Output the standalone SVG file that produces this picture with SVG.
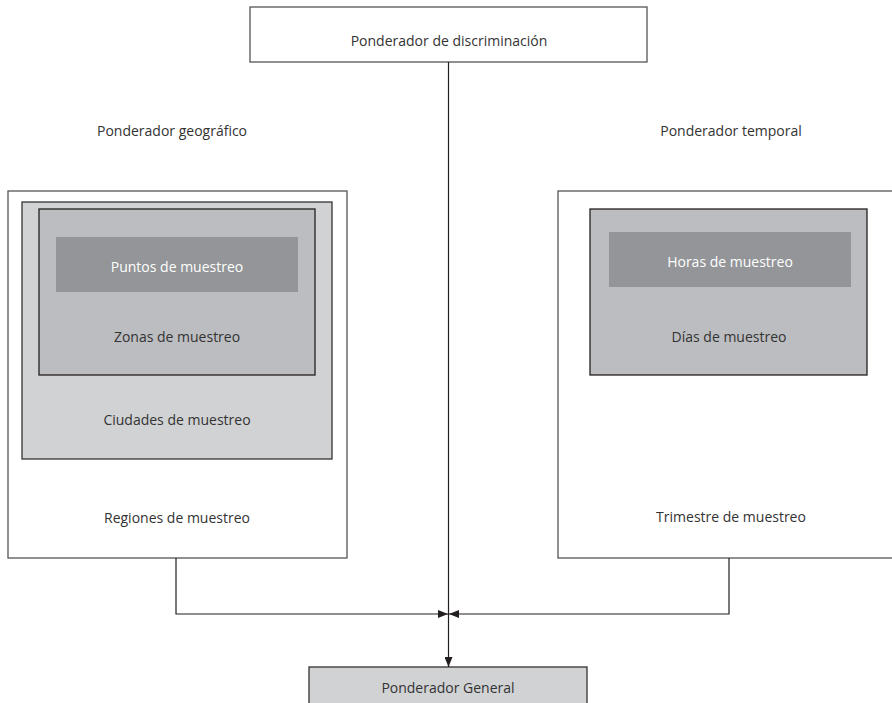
<svg xmlns="http://www.w3.org/2000/svg" width="892" height="703" viewBox="0 0 892 703">
<defs>
<style>
text{font-family:"Open Sans","Noto Sans","Liberation Sans",sans-serif;font-size:14px;fill:#333;text-anchor:middle}
.outer{fill:#fff;stroke:#555;stroke-width:1.3}
.lvl1{fill:#d1d2d4;stroke:#333;stroke-width:1.3}
.lvl2{fill:#bcbdc0;stroke:#231f20;stroke-width:1.3}
.lvl3{fill:#939598;stroke:none}
.w{fill:#fff}
.conn{fill:none;stroke:#231f20;stroke-width:1.2}
</style>
<marker id="ah" viewBox="0 0 10 8" refX="10" refY="4" markerWidth="10" markerHeight="8" markerUnits="userSpaceOnUse" orient="auto">
<path d="M0,0 L10,4 L0,8 Z" fill="#231f20"/>
</marker>
</defs>
<rect width="892" height="703" fill="#fff"/>
<g id="discriminacion">
<rect class="outer" x="250" y="7" width="397" height="55"/>
<text x="449" y="46">Ponderador de discriminación</text>
</g>
<g id="geografico-label"><text x="172" y="136">Ponderador geográfico</text></g>
<g id="temporal-label"><text x="731" y="136">Ponderador temporal</text></g>
<g id="regiones">
<rect class="outer" x="8" y="191" width="339" height="367"/>
<text x="177" y="523">Regiones de muestreo</text>
</g>
<g id="ciudades">
<rect class="lvl1" x="22" y="202" width="310" height="257"/>
<text x="177" y="425">Ciudades de muestreo</text>
</g>
<g id="zonas">
<rect class="lvl2" x="39" y="209" width="276" height="166"/>
<text x="177" y="342">Zonas de muestreo</text>
</g>
<g id="puntos">
<rect class="lvl3" x="56" y="237" width="242" height="55"/>
<text class="w" x="177" y="272">Puntos de muestreo</text>
</g>
<g id="trimestre">
<rect class="outer" x="558" y="191" width="345" height="367"/>
<text x="731" y="522">Trimestre de muestreo</text>
</g>
<g id="dias">
<rect class="lvl2" x="590" y="209" width="277" height="166"/>
<text x="729" y="342">Días de muestreo</text>
</g>
<g id="horas">
<rect class="lvl3" x="609" y="232" width="242" height="55"/>
<text class="w" x="730" y="267">Horas de muestreo</text>
</g>
<g id="general">
<rect class="lvl1" x="309" y="667" width="278" height="45"/>
<text x="448" y="693">Ponderador General</text>
</g>
<g id="connectors">
<path class="conn" d="M448.5,62 V667" marker-end="url(#ah)"/>
<path class="conn" d="M176,558 V614 H448" marker-end="url(#ah)"/>
<path class="conn" d="M729,558 V614 H449" marker-end="url(#ah)"/>
</g>
</svg>
